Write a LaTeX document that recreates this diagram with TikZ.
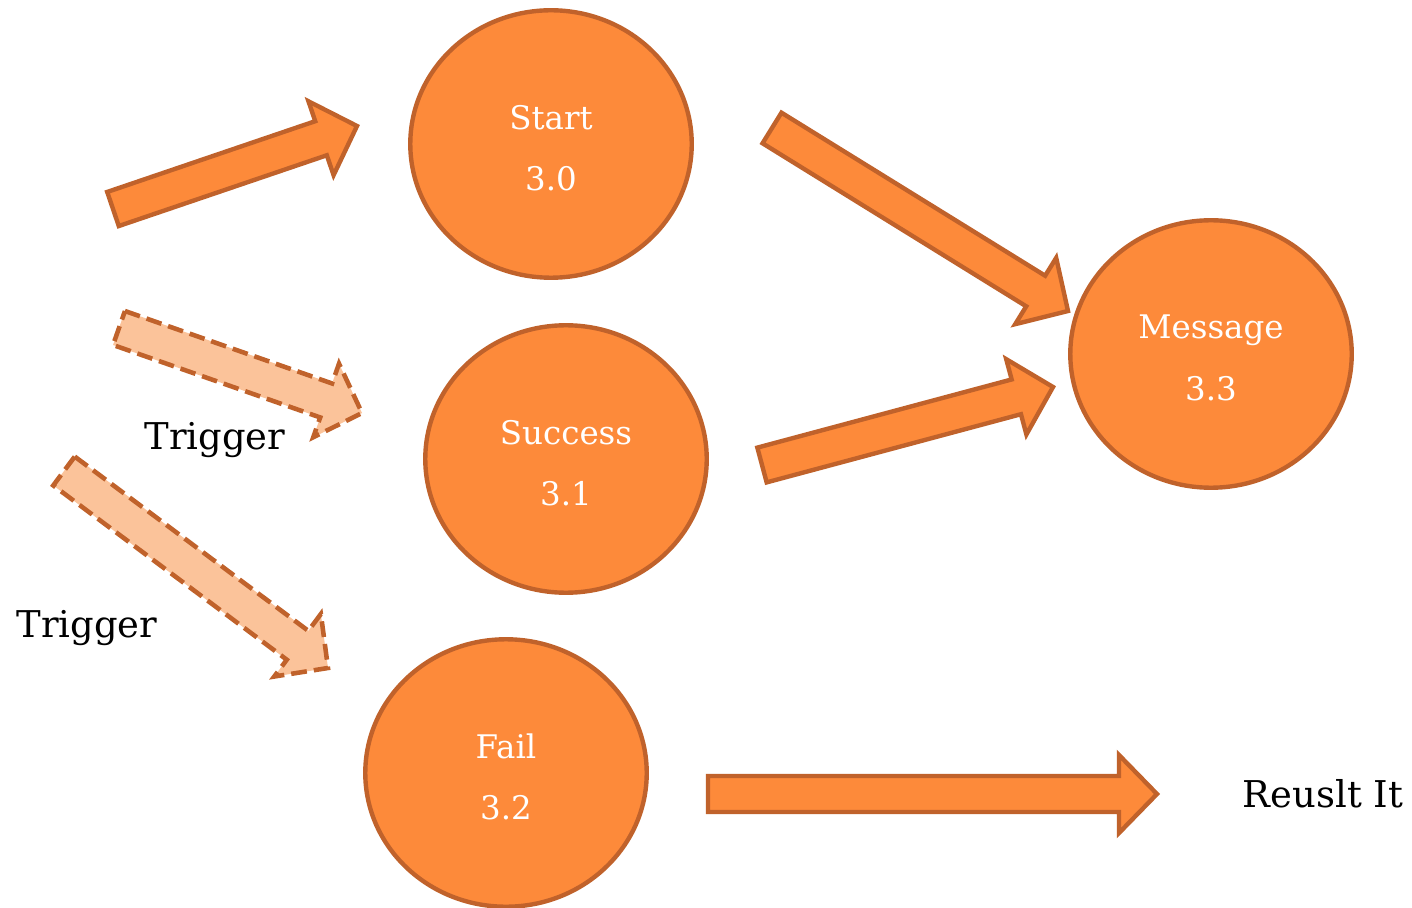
\documentclass[tikz,border=0pt]{standalone}
\usepackage{fontspec}
\setmainfont{DejaVu Serif}
\usetikzlibrary{shapes.geometric,calc}
\definecolor{orangefill}{HTML}{FD8A3A}
\definecolor{orangeline}{HTML}{C0622B}
\definecolor{peachfill}{HTML}{FBC39A}
\tikzstyle{state}=[draw=orangeline,fill=orangefill,ellipse,line width=2.5pt,minimum width=5.63cm,minimum height=5.35cm,inner sep=0pt]
\tikzstyle{statetext}=[text=white,align=center,yshift=-0.08cm,font=\fontsize{18.5}{35}\selectfont]
\tikzstyle{solidarr}=[draw=orangeline,fill=orangefill,line width=2.5pt]
\tikzstyle{trigarr}=[draw=orangeline,fill=peachfill,line width=2.6pt,dash pattern=on 9pt off 4pt]
\tikzstyle{plain}=[font=\fontsize{21}{25}\selectfont]
% block arrow: #1 style, #2 tail, #3 tip
\newcommand{\blockarr}[3]{%
\coordinate (hb) at ($(#3)!0.76cm!(#2)$);
\draw[#1] ($(#2)!0.36cm!90:(#3)$) -- ($(hb)!0.36cm!90:(#3)$) -- ($(hb)!0.78cm!90:(#3)$) -- (#3)
 -- ($(hb)!0.78cm!-90:(#3)$) -- ($(hb)!0.36cm!-90:(#3)$) -- ($(#2)!0.36cm!-90:(#3)$) -- cycle;}

\begin{document}
\begin{tikzpicture}[x=0.02cm,y=-0.02cm]
\useasboundingbox (0,0) rectangle (1412,908);

\draw (551,144) node[state,label={[statetext]center:Start\\3.0}](start){};
\draw (566,459) node[state,label={[statetext]center:Success\\3.1}](success){};
\draw (506,773) node[state,label={[statetext]center:Fail\\3.2}](fail){};
\draw (1211,354) node[state,label={[statetext]center:Message\\3.3}](message){};

\draw (215,440) node[plain](trig1){Trigger};
\draw (87,628) node[plain](trig2){Trigger};
\draw (1323,794) node[plain](result){Reuslt It};

\coordinate (a1s) at (113,209);  \coordinate (a1t) at (357,126);
\coordinate (a2s) at (119,328);  \coordinate (a2t) at (362,413);
\coordinate (a3s) at (64,471);   \coordinate (a3t) at (328,668);
\coordinate (a4s) at (772,128);  \coordinate (a4t) at (1068,311);
\coordinate (a5s) at (762,465);  \coordinate (a5t) at (1053,387);
\coordinate (a6s) at (708,794);  \coordinate (a6t) at (1157,794);

\blockarr{solidarr}{a1s}{a1t}
\blockarr{trigarr}{a2s}{a2t}
\blockarr{trigarr}{a3s}{a3t}
\blockarr{solidarr}{a4s}{a4t}
\blockarr{solidarr}{a5s}{a5t}
\blockarr{solidarr}{a6s}{a6t}

\end{tikzpicture}
\end{document}
